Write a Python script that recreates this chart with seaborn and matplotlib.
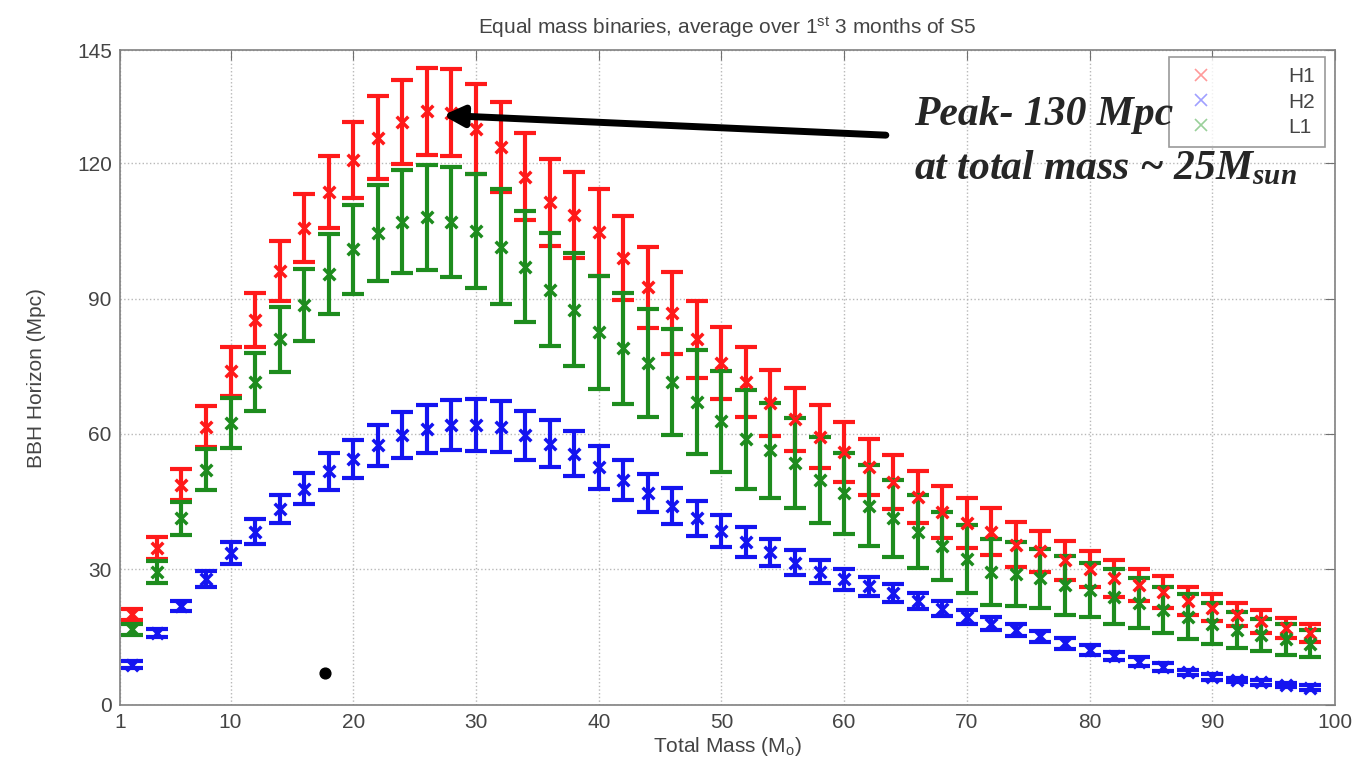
import matplotlib
matplotlib.use('Agg')
from matplotlib import pyplot as plt
from matplotlib.lines import Line2D
import seaborn as sns
import pandas as pd

# total mass grid (M_sun)
mass = list(range(2, 100, 2))

h1 = [20.1, 34.8, 48.8, 61.6, 73.9, 85.2, 96.1, 105.6, 113.6, 120.7,
      125.6, 129.2, 131.5, 131.2, 127.5, 123.5, 117.0, 111.3, 108.5, 104.7,
      99.0, 92.5, 86.8, 81.0, 75.8, 71.5, 66.8, 63.3, 59.4, 56.0,
      52.7, 49.4, 46.0, 42.7, 40.3, 38.4, 35.5, 34.0, 32.0, 30.0,
      28.0, 26.5, 25.0, 23.0, 21.5, 20.0, 18.5, 17.0, 16.0]
h1_err = [1.2, 2.4, 3.5, 4.5, 5.4, 6.0, 6.7, 7.6, 8.0, 8.5,
          9.2, 9.3, 9.6, 9.7, 10.0, 10.0, 9.7, 9.6, 9.6, 9.6,
          9.4, 9.0, 9.0, 8.5, 8.0, 7.7, 7.3, 7.0, 7.0, 6.6,
          6.3, 6.0, 5.8, 5.7, 5.5, 5.2, 5.0, 4.5, 4.3, 4.0,
          4.0, 3.5, 3.5, 3.0, 3.0, 2.5, 2.5, 2.2, 2.0]

h2 = [8.9, 15.9, 21.9, 27.8, 33.6, 38.4, 43.4, 47.9, 51.7, 54.5,
      57.5, 59.7, 61.1, 62.0, 62.0, 61.6, 59.7, 57.8, 55.6, 52.6,
      49.8, 46.9, 44.1, 41.3, 38.5, 36.0, 33.8, 31.5, 29.5, 27.8,
      26.3, 24.8, 23.0, 21.3, 19.5, 18.0, 16.6, 15.2, 13.6, 12.2,
      10.8, 9.6, 8.4, 7.2, 6.2, 5.5, 5.0, 4.4, 3.8]
h2_err = [0.8, 0.8, 1.0, 1.8, 2.5, 2.8, 3.1, 3.5, 4.0, 4.2,
          4.6, 5.1, 5.4, 5.6, 5.8, 5.6, 5.4, 5.2, 5.0, 4.8,
          4.5, 4.2, 4.0, 3.8, 3.5, 3.3, 3.0, 2.8, 2.5, 2.3,
          2.1, 2.0, 1.8, 1.6, 1.5, 1.4, 1.3, 1.2, 1.2, 1.1,
          0.9, 0.9, 0.8, 0.6, 0.6, 0.5, 0.5, 0.5, 0.5]

l1 = [16.7, 29.4, 41.3, 52.1, 62.5, 71.5, 81.0, 88.6, 95.4, 100.9,
      104.6, 107.0, 108.0, 107.0, 105.0, 101.5, 97.0, 92.0, 87.5, 82.5,
      79.0, 75.8, 71.5, 67.0, 62.8, 58.8, 56.4, 53.6, 49.8, 46.9,
      44.1, 41.3, 38.4, 35.2, 32.3, 29.4, 29.0, 28.0, 26.5, 25.5,
      24.0, 22.5, 21.0, 19.5, 18.0, 16.5, 15.5, 14.5, 13.5]
l1_err = [1.2, 2.5, 3.7, 4.5, 5.5, 6.4, 7.2, 8.0, 8.8, 9.8,
          10.6, 11.4, 11.6, 12.2, 12.7, 12.7, 12.3, 12.5, 12.5, 12.5,
          12.3, 12.0, 11.8, 11.5, 11.2, 11.0, 10.5, 10.0, 9.5, 9.0,
          9.0, 8.5, 8.0, 7.6, 7.6, 7.3, 7.0, 6.5, 6.5, 6.0,
          6.0, 5.5, 5.0, 5.0, 4.5, 4.0, 3.5, 3.5, 3.0]

# stray dot on the original figure
dot_x = [17.7]
dot_y = [7.1]

ifos = ['H1', 'H2', 'L1']
colors = {'H1': '#ff1a1a', 'H2': '#1414f0', 'L1': '#1e8c1e'}
light = {'H1': '#ff9a9a', 'H2': '#a0a0ff', 'L1': '#9ad09a'}

frames = []
for name, vals, errs in [('H1', h1, h1_err), ('H2', h2, h2_err), ('L1', l1, l1_err)]:
    frames.append(pd.DataFrame({'mass': mass, 'horizon': vals, 'err': errs, 'ifo': name}))
df = pd.concat(frames, ignore_index=True)

sns.set_style('white')
plt.rcParams['font.family'] = ['Liberation Sans', 'DejaVu Sans']
plt.rcParams['mathtext.fontset'] = 'custom'
plt.rcParams['mathtext.rm'] = 'Liberation Sans'
plt.rcParams['mathtext.it'] = 'Liberation Serif:bold:italic'
plt.rcParams['mathtext.bf'] = 'Liberation Serif:bold'

fig = plt.figure(figsize=(13.65, 7.62), dpi=100)
ax = fig.add_axes([0.088, 0.075, 0.89, 0.859])

for name in ifos:
    d = df[df['ifo'] == name]
    ax.errorbar(d['mass'], d['horizon'], yerr=d['err'], fmt='none',
                ecolor=colors[name], elinewidth=3, capsize=8, capthick=3, zorder=3)
    sns.scatterplot(data=d, x='mass', y='horizon', marker='x', s=70,
                    color=colors[name], linewidth=2.5, ax=ax, legend=False, zorder=4)

ax.scatter(dot_x, dot_y, s=60, color='black', zorder=5)

ax.set_xlim(1, 100)
ax.set_ylim(0, 145)
ax.set_xticks([1, 10, 20, 30, 40, 50, 60, 70, 80, 90, 100])
ax.set_yticks([0, 30, 60, 90, 120, 145])
ax.grid(True, linestyle=':', color='#b8b8b8', linewidth=1)
ax.tick_params(direction='in', top=True, right=True, length=7,
               color='#707070', labelsize=15, labelcolor='#444444', pad=6)
for s in ax.spines.values():
    s.set_color('#808080')
    s.set_linewidth(1.2)

ax.set_title('Equal mass binaries, average over 1$^{\\mathrm{st}}$ 3 months of S5',
             fontsize=15, color='#444444', pad=12)
ax.set_xlabel('Total Mass (M$_{\\mathrm{o}}$)', fontsize=15, color='#444444', labelpad=2)
ax.set_ylabel('BBH Horizon (Mpc)', fontsize=15, color='#444444', labelpad=22)

handles = [Line2D([], [], marker='x', linestyle='none', color=light[n],
                  markersize=8, markeredgewidth=1.2) for n in ifos]
leg = ax.legend(handles, ifos, loc='upper right', bbox_to_anchor=(0.992, 0.99),
                fontsize=15, frameon=True, fancybox=False, handletextpad=3.2,
                labelspacing=0.3, borderpad=0.5, handlelength=2.0, borderaxespad=0)
leg.get_frame().set_edgecolor('#808080')
leg.get_frame().set_linewidth(1.2)
for t in leg.get_texts():
    t.set_color('#444444')

ax.annotate('', xy=(27.3, 130.6), xytext=(63.4, 126.2),
            arrowprops=dict(arrowstyle='-|>', color='black', lw=5, mutation_scale=30,
                            shrinkA=0, shrinkB=0), zorder=6)
note_font = dict(fontsize=30, fontstyle='italic', fontweight='bold',
                 family='Liberation Serif', ha='left', va='baseline', zorder=6)
ax.text(65.7, 128.4, 'Peak- 130 Mpc', **note_font)
ax.text(65.7, 116.4, 'at total mass ~ 25M$_{sun}$', **note_font)

fig.savefig('out.png', dpi=100)
